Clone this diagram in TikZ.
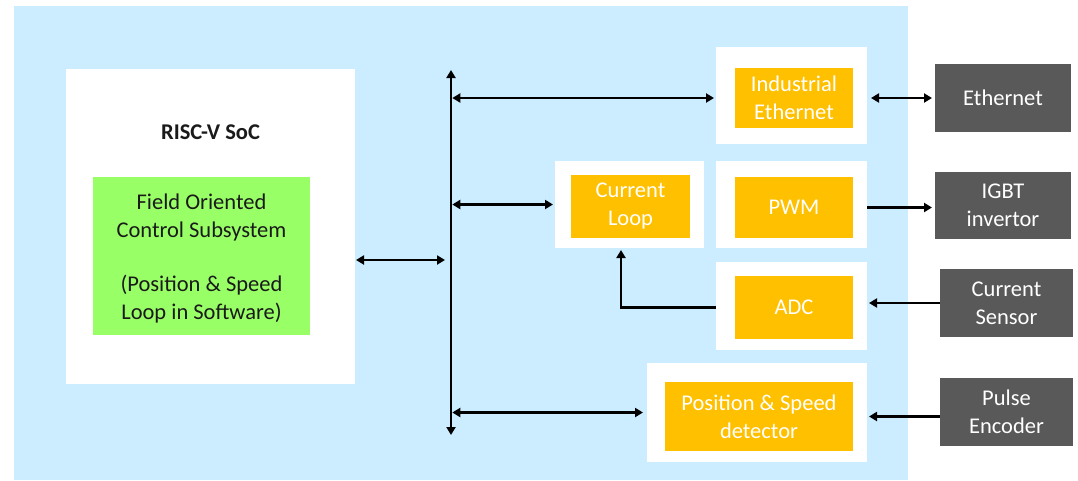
\documentclass[tikz,border=0pt]{standalone}
\usepackage{fontspec}
\setmainfont{Carlito}
\usetikzlibrary{arrows.meta}

\definecolor{panelblue}{HTML}{CCECFF}
\definecolor{blockorange}{HTML}{FFC000}
\definecolor{blockgreen}{HTML}{99FF66}
\definecolor{extgray}{HTML}{595959}
\definecolor{inktext}{HTML}{1A1A1A}

\tikzset{
  txt/.style={font=\fontsize{22.5}{28}\selectfont, align=center},
  frame/.style={rectangle, fill=white, inner sep=0pt, outer sep=0pt},
  hwblock/.style={rectangle, fill=blockorange, text=white, txt, inner sep=0pt, outer sep=0pt},
  swblock/.style={rectangle, fill=blockgreen, text=inktext, txt, inner sep=0pt, outer sep=0pt},
  extblock/.style={rectangle, fill=extgray, text=white, txt, inner sep=0pt, outer sep=0pt},
  wire/.style={line width=2.7pt, -{Triangle[length=8pt,width=9pt]}},
  dwire/.style={line width=2.7pt, {Triangle[length=8pt,width=9pt]}-{Triangle[length=8pt,width=9pt]}},
}

\begin{document}
\begin{tikzpicture}[x=1pt, y=-1pt]
  \useasboundingbox (0,0) rectangle (1078,480);
  \fill[white] (0,0) rectangle (1078,480);

  % chip area
  \fill[panelblue] (14,6) rectangle (908,480);

  % processor subsystem
  \node[frame, minimum width=289pt, minimum height=315pt] (soc) at (210.5,226.5) {};
  \node[txt, text=inktext, font=\fontsize{22.5}{28}\selectfont\bfseries] (soclabel) at (210.5,132) {RISC-V SoC};
  \node[swblock, minimum width=217pt, minimum height=158pt] (foc) at (201.5,256) {};
  \node[txt, text=inktext, inner sep=0pt] (foctext) at (201.5,258.5)
    {Field Oriented\\Control Subsystem\\[26pt](Position \& Speed\\Loop in Software)};

  % system bus
  \coordinate (busT) at (451,70);
  \coordinate (busB) at (451,435);
  \draw[dwire] (busT) -- (busB);

  % peripheral frames
  \node[frame, minimum width=151pt, minimum height=97pt] (ieW)  at (791.5,95.5) {};
  \node[frame, minimum width=149pt, minimum height=87pt] (clW)  at (629.5,204.5) {};
  \node[frame, minimum width=151pt, minimum height=87pt] (pwmW) at (791.5,204.5) {};
  \node[frame, minimum width=151pt, minimum height=88pt] (adcW) at (791.5,306) {};
  \node[frame, minimum width=220pt, minimum height=99pt] (posW) at (757,412.5) {};

  % peripheral blocks
  \node[hwblock, minimum width=118pt, minimum height=60pt] (ie)  at (794,98) {Industrial\\Ethernet};
  \node[hwblock, minimum width=119pt, minimum height=63pt] (cl)  at (630.5,206.5) {Current\\Loop};
  \node[hwblock, minimum width=118pt, minimum height=61pt] (pwm) at (794,207.5) {PWM};
  \node[hwblock, minimum width=118pt, minimum height=63pt] (adc) at (794,307.5) {ADC};
  \node[hwblock, minimum width=188pt, minimum height=69pt] (pos) at (759,416.5) {Position \& Speed\\detector};

  % external devices
  \node[extblock, minimum width=136pt, minimum height=68pt] (eth)  at (1003,98) {Ethernet};
  \node[extblock, minimum width=136pt, minimum height=67pt] (igbt) at (1003,205.5) {IGBT\\invertor};
  \node[extblock, minimum width=133pt, minimum height=68pt] (cs)   at (1006.5,303) {Current\\Sensor};
  \node[extblock, minimum width=133pt, minimum height=68pt] (pe)   at (1006.5,412) {Pulse\\Encoder};

  % SoC to bus
  \draw[dwire, shorten <=1pt, shorten >=6pt] ([yshift=-4pt]soc.east |- foc.east) -- ([yshift=-4pt]foc.east -| busT);

  % bus taps
  \draw[dwire, shorten <=1.3pt, shorten >=2pt] (busT |- ie.center) -- (ieW.west |- ie.center);
  \draw[dwire, shorten <=1.3pt, shorten >=2pt] (busT |- clW.west) -- (clW.west);
  \draw[dwire, shorten <=1.3pt, shorten >=4pt] (busT |- posW.west) -- (posW.west);

  % external links
  \draw[dwire, shorten <=4pt, shorten >=3pt] (ieW.east |- eth.west) -- (eth.west);
  \draw[wire, shorten >=3pt] (pwmW.east |- pwm.center) -- (igbt.west |- pwm.center);
  \draw[wire, shorten >=2pt] (cs.west) -- (cs.west -| adcW.east);
  \draw[wire, shorten >=2pt] (pe.west |- pos.center) -- (pos.center -| posW.east);

  % current feedback
  \draw[wire, shorten >=2pt] (adcW.west |- adc.center) -| ([xshift=-8.5pt]clW.south);
\end{tikzpicture}
\end{document}
